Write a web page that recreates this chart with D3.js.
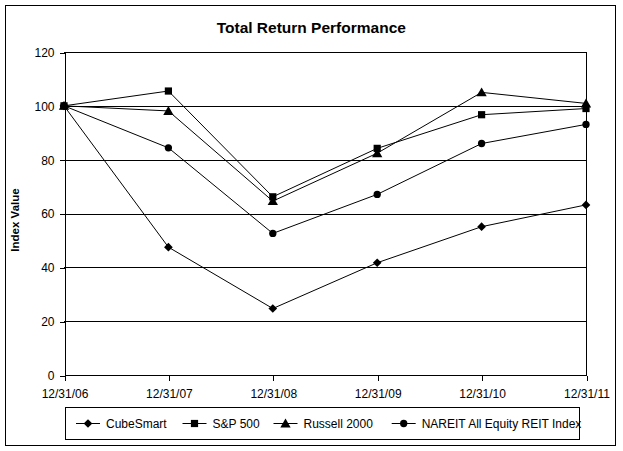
<!DOCTYPE html>
<html>
<head>
<meta charset="utf-8">
<script src="https://cdn.jsdelivr.net/npm/d3@7"></script>
<style>
  html, body { margin: 0; padding: 0; background: #fff; }
  svg { display: block; font-family: Arial, "Liberation Sans", sans-serif; }
</style>
</head>
<body>
<svg id="chart" width="623" height="451"></svg>
<script>
const categories = ["12/31/06", "12/31/07", "12/31/08", "12/31/09", "12/31/10", "12/31/11"];
const cubeSmart = [100, 47.5, 24.7, 41.7, 55.1, 63.2];
const sp500 = [100, 105.5, 66.2, 84.2, 96.7, 99.0];
const russell2000 = [100, 98.1, 64.6, 82.4, 105.0, 100.9];
const nareit = [100, 84.4, 52.6, 67.1, 86.0, 93.1];
const seriesNames = ["CubeSmart", "S&P 500", "Russell 2000", "NAREIT All Equity REIT Index"];
const yTicks = [0, 20, 40, 60, 80, 100, 120];

const seriesList = [
  { name: seriesNames[0], values: cubeSmart, symbol: "diamond" },
  { name: seriesNames[1], values: sp500, symbol: "square" },
  { name: seriesNames[2], values: russell2000, symbol: "triangle" },
  { name: seriesNames[3], values: nareit, symbol: "circle" }
];

const svg = d3.select("#chart");
const FONT = "Arial, 'Liberation Sans', sans-serif";

// outer border
svg.append("rect").attr("x", 5.5).attr("y", 5.5).attr("width", 610).attr("height", 440)
  .attr("fill", "#fff").attr("stroke", "#000").attr("stroke-width", 1);

const plot = { left: 64, right: 586, top: 52, bottom: 375 };

const x = d3.scalePoint().domain(categories).range([plot.left, plot.right]);
const y = d3.scaleLinear().domain([0, 120]).range([plot.bottom, plot.top]);

// gridlines
svg.append("g").selectAll("line").data(yTicks.filter(d => d > 0)).join("line")
  .attr("x1", plot.left).attr("x2", plot.right)
  .attr("y1", d => Math.round(y(d)) + 0.5).attr("y2", d => Math.round(y(d)) + 0.5)
  .attr("stroke", "#000").attr("stroke-width", 1).attr("shape-rendering", "crispEdges");

// right border of plot area
svg.append("line").attr("x1", plot.right + 0.5).attr("x2", plot.right + 0.5)
  .attr("y1", plot.top).attr("y2", plot.bottom)
  .attr("stroke", "#000").attr("shape-rendering", "crispEdges");

// y axis
const yAxis = d3.axisLeft(y).tickValues(yTicks).tickSize(5).tickPadding(5).tickSizeOuter(0);
const gy = svg.append("g").attr("transform", `translate(${plot.left + 0.5},0.5)`).call(yAxis);
gy.selectAll("text").attr("font-size", 12).attr("font-family", FONT).attr("fill", "#000");
gy.selectAll("line, path").attr("stroke", "#000").attr("shape-rendering", "crispEdges");

// x axis
const xAxis = d3.axisBottom(x).tickSize(5).tickPadding(9).tickSizeOuter(0);
const gx = svg.append("g").attr("transform", `translate(0.5,${plot.bottom + 0.5})`).call(xAxis);
gx.selectAll("text").attr("font-size", 12).attr("font-family", FONT).attr("fill", "#000");
gx.selectAll("line, path").attr("stroke", "#000").attr("shape-rendering", "crispEdges");
gx.select("path.domain").attr("d", `M${plot.left},0H${plot.right}`);

// title
svg.append("text").attr("x", 311.3).attr("y", 33).attr("text-anchor", "middle")
  .attr("font-size", 15.5).attr("font-weight", "bold").text("Total Return Performance");

// y axis title
svg.append("text").attr("transform", `translate(18.5,220) rotate(-90)`).attr("text-anchor", "middle")
  .attr("font-size", 11.5).attr("font-weight", "bold").text("Index Value");

const symbolMap = {
  diamond: d3.symbol().type(d3.symbolDiamond2).size(48),
  square: d3.symbol().type(d3.symbolSquare).size(52),
  triangle: d3.symbol().type(d3.symbolTriangle).size(46),
  circle: d3.symbol().type(d3.symbolCircle).size(42)
};
const triOffset = 1;

const line = d3.line().x((d, i) => x(categories[i])).y(d => y(d));

seriesList.forEach(s => {
  svg.append("path").datum(s.values).attr("d", line)
    .attr("fill", "none").attr("stroke", "#000").attr("stroke-width", 1);
});
seriesList.forEach(s => {
  svg.append("g").selectAll("path").data(s.values).join("path")
    .attr("d", symbolMap[s.symbol])
    .attr("transform", (d, i) => `translate(${x(categories[i])},${y(d) + (s.symbol === "triangle" ? triOffset : 0)})`)
    .attr("fill", "#000");
});

// legend
svg.append("rect").attr("x", 65.5).attr("y", 407.5).attr("width", 514).attr("height", 32)
  .attr("fill", "#fff").attr("stroke", "#000").attr("shape-rendering", "crispEdges");
const legendTextX = [106, 212.5, 303.5, 421.7];
const legendY = 423.5;
seriesList.forEach((s, i) => {
  const tx = legendTextX[i];
  const mx = tx - 18;
  const g = svg.append("g");
  g.append("line").attr("x1", mx - 12).attr("x2", mx + 12).attr("y1", legendY).attr("y2", legendY)
    .attr("stroke", "#000").attr("stroke-width", 1);
  g.append("path").attr("d", symbolMap[s.symbol])
    .attr("transform", `translate(${mx},${legendY + (s.symbol === "triangle" ? triOffset : 0)})`).attr("fill", "#000");
  g.append("text").attr("x", tx).attr("y", legendY + 4.3).attr("font-size", 12).text(s.name);
});
</script>
</body>
</html>
